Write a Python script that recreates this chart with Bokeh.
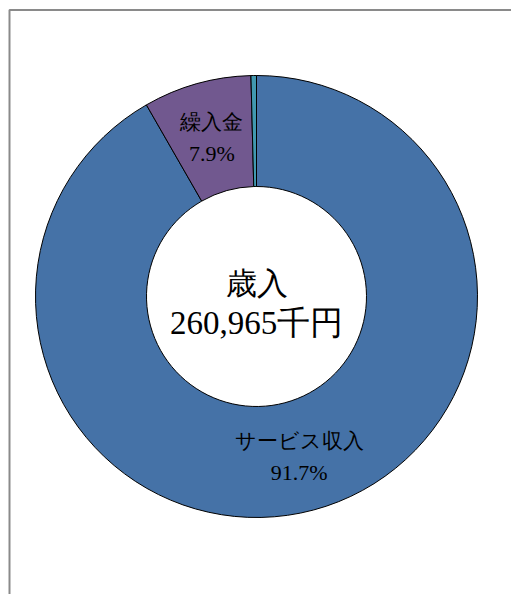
import math
from bokeh.plotting import figure
from bokeh.models import Range1d, ColumnDataSource
from bokeh.core.properties import value
from bokeh.embed import file_html
from bokeh.resources import INLINE

# --- data ---
categories = ["サービス収入", "繰入金", "その他"]
shares = [91.7, 7.9, 0.4]
colors = ["#4572A7", "#71588F", "#4198AF"]
show_label = [True, True, False]
center_title = "歳入"
center_total = "260,965千円"

# --- layout ---
W, H = 511, 594
cx, cy = 256, H - 296
r_out, r_in = 221, 110
FONT = value("Times New Roman, serif")

p = figure(width=W, height=H, output_backend="svg", toolbar_location=None,
           x_range=Range1d(0, W), y_range=Range1d(0, H), min_border=0)
p.axis.visible = False
p.grid.visible = False
p.outline_line_color = None
p.background_fill_color = "white"
p.border_fill_color = "white"

# wedges, clockwise from top
total = sum(shares)
starts, ends, mids = [], [], []
a = math.pi / 2
for v in shares:
    e = a - 2 * math.pi * v / total
    starts.append(a)
    ends.append(e)
    mids.append((a + e) / 2)
    a = e

src = ColumnDataSource(dict(start=starts, end=ends, color=colors))
p.annular_wedge(x=cx, y=cy, inner_radius=r_in, outer_radius=r_out,
                inner_radius_units="screen", outer_radius_units="screen",
                start_angle="start", end_angle="end", direction="clock",
                fill_color="color", line_color="black", line_width=1, source=src)

# labels
r_mid = (r_in + r_out) / 2
lx, ly, names, pcts = [], [], [], []
for c, v, m, s in zip(categories, shares, mids, show_label):
    if not s:
        continue
    lx.append(cx + r_mid * math.cos(m))
    ly.append(cy + r_mid * math.sin(m))
    names.append(c)
    pcts.append(f"{v:.1f}%")
lsrc = ColumnDataSource(dict(x=lx, y=ly, n=names, p=pcts))
p.text(x="x", y="y", text="n", source=lsrc, y_offset=-15, text_align="center",
       text_baseline="middle", text_font=FONT, text_font_size="21px", text_color="black")
p.text(x="x", y="y", text="p", source=lsrc, y_offset=16, text_align="center",
       text_baseline="middle", text_font=FONT, text_font_size="22px", text_color="black")

# center text
p.text(x=[cx], y=[cy], text=[center_title], y_offset=-13, text_align="center",
       text_baseline="middle", text_font=FONT, text_font_size="31px", text_color="black")
p.text(x=[cx], y=[cy], text=[center_total], y_offset=26, text_align="center",
       text_baseline="middle", text_font=FONT, text_font_size="33px", text_color="black")

# left and top border of the chart area (right/bottom are beyond the window)
p.line(x=[9, 9, W], y=[0, H - 9.5, H - 9.5], line_color="#8a8a8a", line_width=2)

open("out.html", "w").write(file_html(p, INLINE))
